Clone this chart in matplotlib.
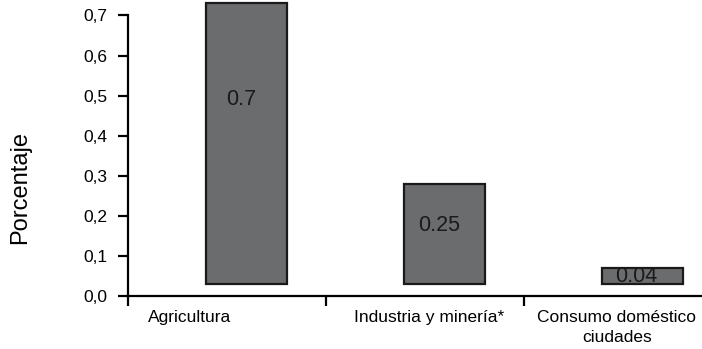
import matplotlib.pyplot as plt
import numpy as np

plt.rcParams['font.family'] = ['Liberation Sans', 'DejaVu Sans']

# Uso del agua por sector
categorias = ['Agricultura', 'Industria y minería*', 'Consumo doméstico\nciudades']
valores = [0.7, 0.25, 0.04]
etiquetas = ['0.7', '0.25', '0.04']
y_ticks = [0.0, 0.1, 0.2, 0.3, 0.4, 0.5, 0.6, 0.7]

base = 0.03            # las barras arrancan un poco por encima del eje
bar_offset = 0.6       # centro de la barra dentro de cada tramo
label_x = [0.31, 1.52, 2.47]
texto_y = [0.49, 0.175, 0.048]

fig = plt.figure(figsize=(7.02, 3.49), dpi=100)
ax = fig.add_axes([0.1823, 0.1527, 0.846, 0.8029])

x = np.arange(len(categorias)) + bar_offset
ax.bar(x, valores, width=0.41, bottom=base, color='#6b6c6e',
       edgecolor='#1a1a1a', linewidth=1.6, clip_on=False)

for xi, ty, t in zip(x, texto_y, etiquetas):
    ax.text(xi - 0.03, ty, t, ha='center', va='center', fontsize=15.5, color='#1a1a1a')

ax.set_xlim(0, 3)
ax.set_ylim(0, 0.7)
ax.set_yticks(y_ticks)
ax.set_yticklabels([f'{v:.1f}'.replace('.', ',') for v in y_ticks], fontsize=12.5)
ax.set_xticks([0, 1, 2, 3])
ax.set_xticklabels([])
ax.set_xticks(label_x, minor=True)
ax.set_xticklabels(categorias, minor=True, fontsize=12.5, linespacing=1.45)
ax.tick_params(axis='x', which='minor', length=0, pad=10)
ax.tick_params(axis='x', which='major', direction='out', length=7, width=1.6)
ax.tick_params(axis='y', direction='out', length=7, width=1.6, pad=8)

for s in ['top', 'right']:
    ax.spines[s].set_visible(False)
for s in ['left', 'bottom']:
    ax.spines[s].set_linewidth(1.6)

ax.set_ylabel('Porcentaje', fontsize=17)
ax.yaxis.set_label_coords(-0.163, 0.385)

fig.savefig('out.png', dpi=100)
